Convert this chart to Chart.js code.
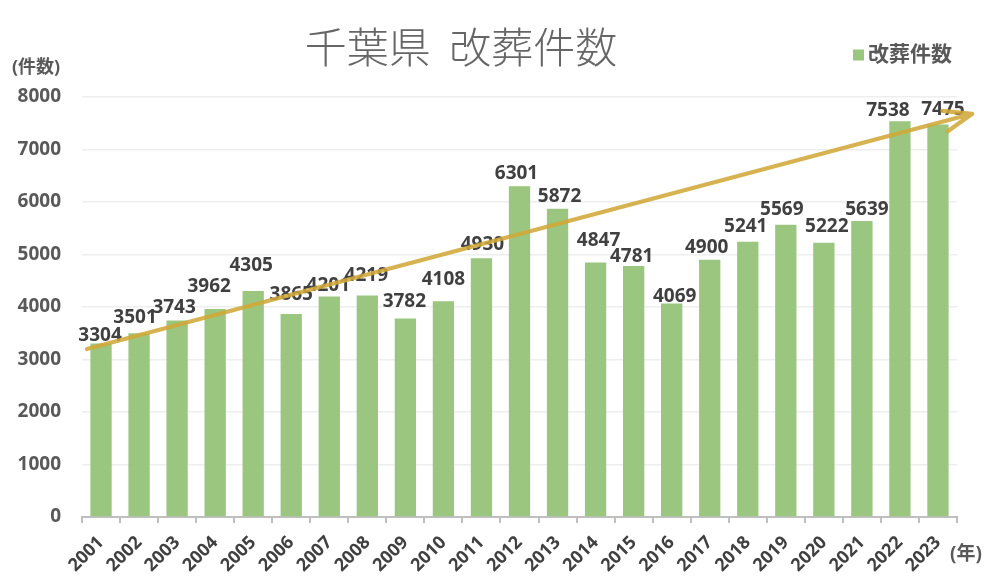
<!DOCTYPE html>
<html lang="ja">
<head>
<meta charset="utf-8">
<title>千葉県 改葬件数</title>
<script src="https://cdn.jsdelivr.net/npm/chart.js@4.4.1/dist/chart.umd.min.js"></script>
<style>
html, body { margin: 0; padding: 0; background: #fff; }
#wrap { width: 1000px; height: 585px; position: relative; }
</style>
</head>
<body>
<div id="wrap"><canvas id="myChart"></canvas></div>
<script>
const years = ['2001','2002','2003','2004','2005','2006','2007','2008','2009','2010','2011','2012',
  '2013','2014','2015','2016','2017','2018','2019','2020','2021','2022','2023'];
const kaisou = [3304,3501,3743,3962,4305,3865,4201,4219,3782,4108,4930,6301,
  5872,4847,4781,4069,4900,5241,5569,5222,5639,7538,7475];
const yTicks = [0,1000,2000,3000,4000,5000,6000,7000,8000];
// hand drawn trend arrow, start and end value
const trendValues = [3200, 7680];

const FONT = '"Open Sans", "Noto Sans CJK JP", sans-serif';

const extras = {
  id: 'extras',
  afterDatasetsDraw(chart, args, opts) {
    const ctx = chart.ctx;
    const xs = chart.scales.x, ys = chart.scales.y;
    const meta = chart.getDatasetMeta(0);
    ctx.save();
    // value labels (moved by hand in the original, so each one sits a bit differently)
    ctx.font = 'bold 19px ' + FONT;
    ctx.fillStyle = '#404040';
    ctx.textAlign = 'center';
    ctx.textBaseline = 'middle';
    meta.data.forEach(function(bar, i){
      ctx.fillText(String(kaisou[i]), bar.x + opts.shift[i], bar.y - opts.lift[i]);
    });
    // trend arrow
    const x0 = xs.getPixelForValue(-0.37), x1 = xs.getPixelForValue(22.9);
    const y0 = ys.getPixelForValue(trendValues[0]), y1 = ys.getPixelForValue(trendValues[1]);
    const ang = Math.atan2(y1 - y0, x1 - x0);
    const head = 30, spread = 0.36;
    ctx.strokeStyle = 'rgba(208,168,56,0.88)';
    ctx.lineWidth = 4.2;
    ctx.lineCap = 'round';
    ctx.lineJoin = 'round';
    ctx.beginPath();
    ctx.moveTo(x0, y0);
    ctx.lineTo(x1, y1);
    ctx.moveTo(x1 - head * Math.cos(ang + spread), y1 - head * Math.sin(ang + spread));
    ctx.lineTo(x1, y1);
    ctx.lineTo(x1 - head * Math.cos(ang - spread), y1 - head * Math.sin(ang - spread));
    ctx.stroke();
    ctx.restore();
  },
  afterDraw(chart) {
    const ctx = chart.ctx;
    const area = chart.chartArea;
    ctx.save();
    // title
    ctx.font = '300 42px "Noto Sans CJK JP", sans-serif';
    ctx.fillStyle = '#666666';
    ctx.textAlign = 'center';
    ctx.textBaseline = 'middle';
    ctx.fillText('千葉県  改葬件数', 461, 47);
    // legend
    ctx.fillStyle = '#9bc680';
    ctx.fillRect(853, 49.5, 11, 11);
    ctx.font = 'bold 21px ' + FONT;
    ctx.fillStyle = '#595959';
    ctx.textAlign = 'left';
    ctx.fillText('改葬件数', 868, 55);
    // axis labels
    ctx.font = 'bold 18px ' + FONT;
    ctx.fillText('(件数)', 12, 68);
    ctx.font = 'bold 19px ' + FONT;
    ctx.fillText('(年)', area.right - 7, 555);
    ctx.restore();
  }
};

const data = {
  labels: years,
  datasets: [{
    label: '改葬件数',
    data: kaisou,
    backgroundColor: '#9bc680',
    borderWidth: 0,
    barPercentage: 0.56,
    categoryPercentage: 1.0
  }]
};

const config = {
  type: 'bar',
  data,
  options: {
    responsive: true,
    maintainAspectRatio: false,
    animation: false,
    layout: { padding: { left: 0, right: 43, top: 97, bottom: 0 } },
    plugins: {
      legend: { display: false },
      tooltip: { enabled: false },
      title: { display: false },
      extras: {
        lift: [8,16,13,22,25,19,11,20,17,22,14,13,12,22,9,7,12,15,15,16,11,11,15],
        shift: [-1,-4,-3,-6,-2,0,-1,-1,-1,0,1,-3,2,3,-2,3,-3,-2,-4,3,5,-12,5]
      }
    },
    scales: {
      x: {
        grid: { offset: true, drawOnChartArea: false, drawTicks: true, tickLength: 6, color: '#bfbfbf', lineWidth: 2 },
        border: { display: true, color: '#bfbfbf', width: 2 },
        ticks: {
          autoSkip: false,
          maxRotation: 45,
          minRotation: 45,
          padding: 9,
          color: '#404040',
          font: { family: FONT, size: 18, weight: 'bold' }
        },
        afterFit(scale) { scale.height = 68; }
      },
      y: {
        min: 0,
        max: 8000,
        afterBuildTicks(scale) { scale.ticks = yTicks.map(v => ({ value: v })); },
        grid: { color: '#eeeeee', lineWidth: 1.5, drawTicks: false },
        border: { display: false },
        ticks: {
          padding: 21,
          color: '#595959',
          font: { family: FONT, size: 19, weight: 'bold' },
          callback: v => String(v)
        },
        afterFit(scale) { scale.width = 82; }
      }
    }
  },
  plugins: [extras]
};

var myChart = new Chart(document.getElementById('myChart'), config);
</script>
</body>
</html>
